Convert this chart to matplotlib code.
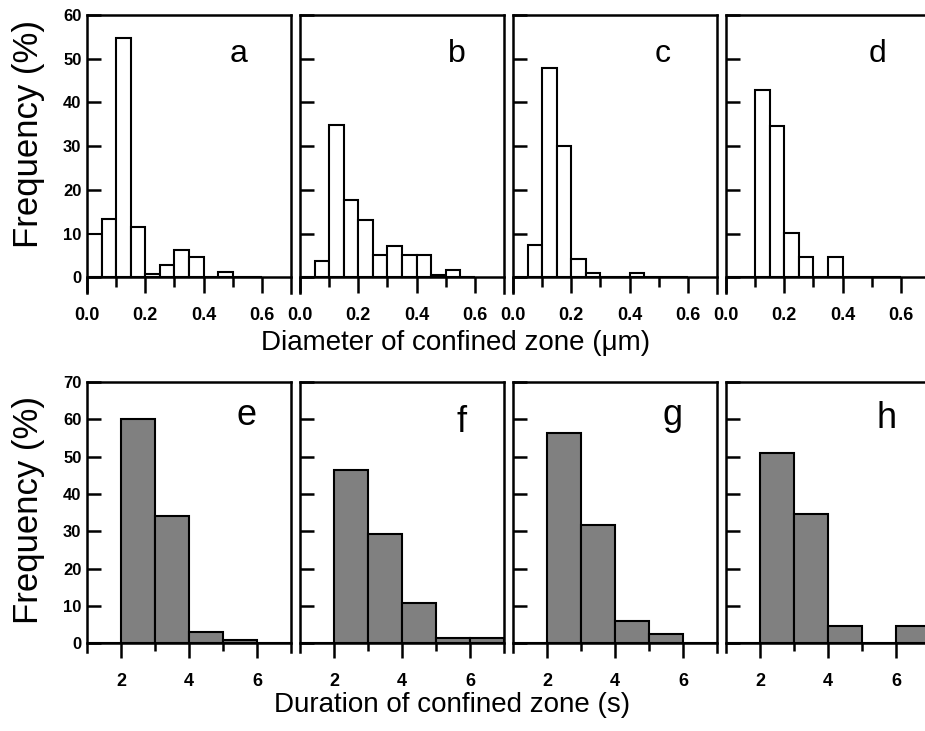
import matplotlib
matplotlib.use('Agg')
import matplotlib.pyplot as plt
import numpy as np

plt.rcParams['font.family'] = ['Liberation Sans', 'DejaVu Sans']

FIG_W, FIG_H = 925, 731

# diameter histograms (bin width 0.05 um, 0.0 - 0.6)
diam_edges = [0.00, 0.05, 0.10, 0.15, 0.20, 0.25, 0.30, 0.35, 0.40, 0.45, 0.50, 0.55, 0.60]
diam_a = [10.0, 13.3, 54.8, 11.6, 0.8, 2.8, 6.3, 4.6, 0.0, 1.1, 0.0, 0.0]
diam_b = [0.0, 3.7, 34.8, 17.6, 13.1, 5.0, 7.2, 5.0, 5.0, 0.5, 1.7, 0.0]
diam_c = [0.0, 7.4, 47.9, 30.1, 4.1, 0.9, 0.0, 0.0, 0.9, 0.0, 0.0, 0.0]
diam_d = [0.0, 0.0, 42.8, 34.7, 10.2, 4.7, 0.0, 4.7, 0.0, 0.0, 0.0, 0.0]

# duration histograms (bin width 1 s, 1 - 7)
dur_edges = [1, 2, 3, 4, 5, 6, 7]
dur_e = [0.0, 60.0, 34.0, 3.0, 1.0, 0.0]
dur_f = [0.0, 46.4, 29.2, 10.7, 1.4, 1.4]
dur_g = [0.0, 56.3, 31.8, 6.0, 2.6, 0.0]
dur_h = [0.0, 51.0, 34.7, 4.7, 0.0, 4.7]

top_labels = ['a', 'b', 'c', 'd']
bottom_labels = ['e', 'f', 'g', 'h']

LW = 1.8


def px_axes(fig, left, top, right, bottom):
    return fig.add_axes([left / FIG_W, 1 - bottom / FIG_H,
                         (right - left) / FIG_W, (bottom - top) / FIG_H])


def style_axes(ax, show_ylabels, major_len, minor_len):
    for side in ('left', 'right', 'top', 'bottom'):
        ax.spines[side].set_linewidth(LW)
    ax.spines['bottom'].set_position(('data', 0))
    ax.tick_params(axis='y', direction='in', length=10, width=LW,
                   labelsize=12, pad=4, labelleft=show_ylabels)
    ax.tick_params(axis='x', which='major', direction='out', length=major_len,
                   width=LW, labelsize=13, pad=10)
    ax.tick_params(axis='x', which='minor', direction='out', length=minor_len,
                   width=LW)
    for lab in ax.get_xticklabels() + ax.get_yticklabels():
        lab.set_fontweight('bold')


fig = plt.figure(figsize=(FIG_W / 100, FIG_H / 100), dpi=100)

lefts = [87, 300, 513, 726]
width = 204

top_data = [diam_a, diam_b, diam_c, diam_d]
top_letter_pos = [(239, 62), (457, 62), (663, 62), (877, 62)]
for i, vals in enumerate(top_data):
    ax = px_axes(fig, lefts[i], 15, lefts[i] + width, 293)
    ax.bar(diam_edges[:-1], vals, width=0.05, align='edge',
           color='white', edgecolor='black', linewidth=1.5, zorder=2)
    ax.set_xlim(0, 0.7)
    ax.set_ylim(-3.6, 60)
    ax.set_xticks([0.0, 0.2, 0.4, 0.6])
    ax.set_xticklabels(['0.0', '0.2', '0.4', '0.6'])
    ax.set_xticks([0.1, 0.3, 0.5], minor=True)
    ax.set_yticks([0, 10, 20, 30, 40, 50, 60])
    style_axes(ax, i == 0, 11.5, 7)
    x, y = top_letter_pos[i]
    fig.text(x / FIG_W, 1 - y / FIG_H, top_labels[i], fontsize=23,
             ha='center', va='baseline')

bottom_data = [dur_e, dur_f, dur_g, dur_h]
bottom_letter_pos = [(247, 425), (462, 432), (672, 425), (887, 428)]
for i, vals in enumerate(bottom_data):
    ax = px_axes(fig, lefts[i], 382, lefts[i] + width, 652)
    ax.bar(dur_edges[:-1], vals, width=1, align='edge',
           color='#808080', edgecolor='black', linewidth=1.5, zorder=2)
    ax.set_xlim(1, 7)
    ax.set_ylim(-2.3, 70)
    ax.set_xticks([2, 4, 6])
    ax.set_xticks([3, 5], minor=True)
    ax.set_yticks([0, 10, 20, 30, 40, 50, 60, 70])
    style_axes(ax, i == 0, 11, 6)
    x, y = bottom_letter_pos[i]
    fig.text(x / FIG_W, 1 - y / FIG_H, bottom_labels[i], fontsize=26,
             ha='center', va='baseline')

fig.text(29 / FIG_W, 1 - 134 / FIG_H, 'Frequency (%)', fontsize=25,
         rotation=90, ha='center', va='center')
fig.text(29 / FIG_W, 1 - 510 / FIG_H, 'Frequency (%)', fontsize=25,
         rotation=90, ha='center', va='center')
fig.text(456 / FIG_W, 1 - 350 / FIG_H, 'Diameter of confined zone (μm)',
         fontsize=20, ha='center', va='baseline')
fig.text(452 / FIG_W, 1 - 712 / FIG_H, 'Duration of confined zone (s)',
         fontsize=20, ha='center', va='baseline')

fig.savefig('out.png', dpi=100)
